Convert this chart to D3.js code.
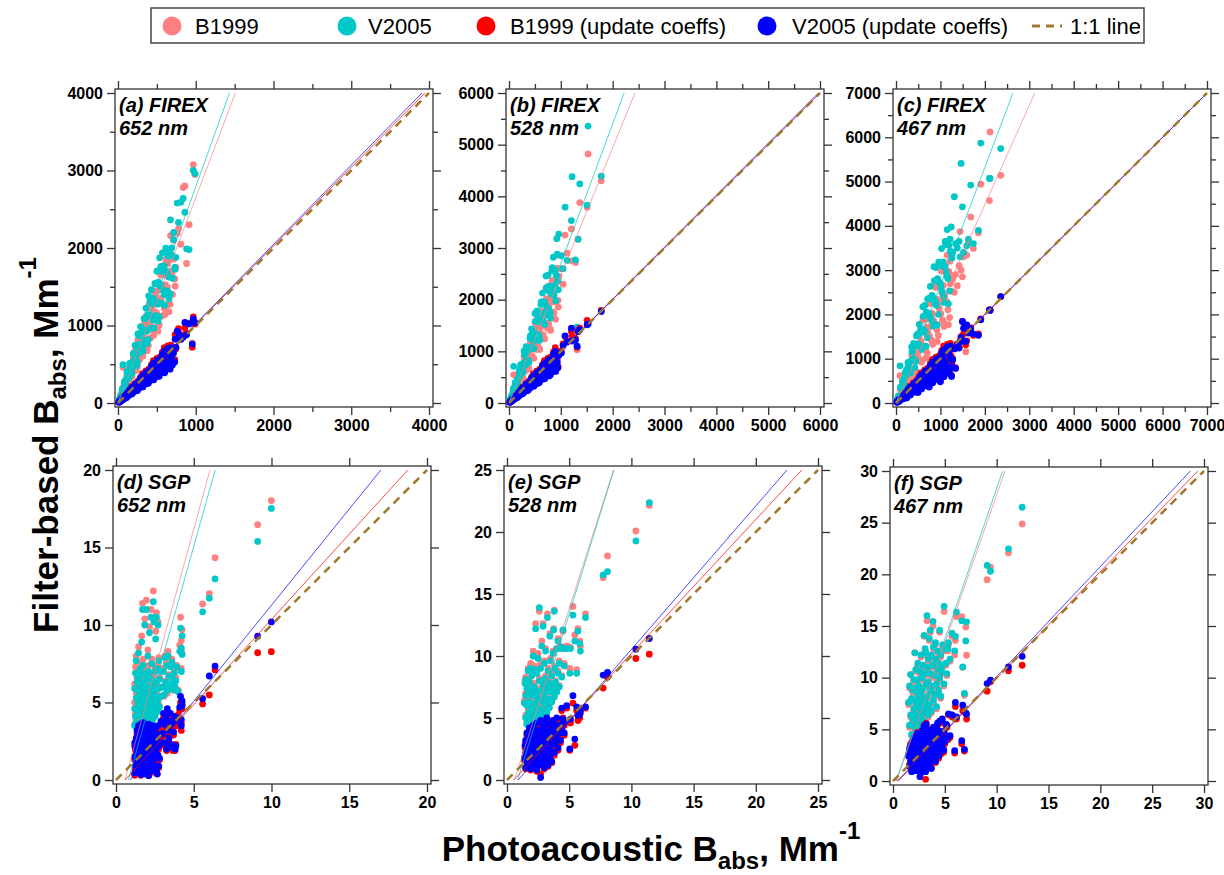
<!DOCTYPE html>
<html>
<head>
<meta charset="utf-8">
<script src="https://cdn.jsdelivr.net/npm/d3@7"></script>
<style>
  body { margin: 0; background: #fff; }
  text { font-family: "Liberation Sans", Arial, sans-serif; }
</style>
</head>
<body>
<script>
// rows: [photoacoustic, B1999, V2005, B1999 updated, V2005 updated]
var firex652 = [
  [10, 31, 34, 12, 11], [20, 44, 50, 16, 15], [30, 84, 90, 30, 29], [40, 76, 84, 28, 26],
  [50, 125, 140, 55, 52], [60, 180, 192, 54, 51], [64, 460, 495, 90, 78], [70, 140, 161, 52, 49],
  [80, 248, 272, 92, 88], [90, 198, 225, 72, 68], [100, 280, 300, 100, 95], [110, 209, 231, 77, 72],
  [120, 300, 336, 132, 126], [130, 390, 416, 117, 110], [140, 280, 322, 105, 98], [150, 465, 510, 172, 165],
  [160, 352, 400, 128, 120], [170, 476, 510, 170, 162], [180, 342, 378, 126, 117], [190, 475, 532, 209, 200],
  [200, 600, 640, 180, 170], [210, 420, 483, 157, 147], [220, 682, 748, 253, 242], [230, 506, 575, 184, 172],
  [240, 672, 720, 240, 228], [250, 475, 525, 175, 162], [260, 650, 728, 286, 273], [270, 810, 864, 243, 230],
  [280, 560, 644, 210, 196], [290, 900, 986, 334, 319], [300, 660, 750, 240, 225], [310, 868, 930, 310, 295],
  [320, 608, 672, 224, 208], [330, 825, 924, 363, 346], [340, 1020, 1088, 306, 289], [350, 700, 805, 262, 245],
  [360, 1116, 1224, 414, 396], [370, 814, 925, 296, 278], [380, 1064, 1140, 380, 361], [390, 741, 819, 273, 254],
  [400, 1000, 1120, 440, 420], [410, 1230, 1312, 369, 349], [420, 840, 966, 315, 294], [430, 1333, 1462, 494, 473],
  [440, 968, 1100, 352, 330], [450, 1260, 1350, 450, 428], [460, 874, 966, 322, 299], [470, 1175, 1316, 517, 494],
  [480, 1440, 1536, 432, 408], [490, 980, 1127, 367, 343], [500, 1550, 1700, 575, 550], [510, 1122, 1275, 408, 383],
  [520, 1456, 1560, 520, 494], [530, 1007, 1113, 371, 345], [540, 1350, 1512, 594, 567], [550, 1650, 1760, 495, 468],
  [560, 1120, 1288, 420, 392], [570, 1767, 1938, 655, 627], [580, 1276, 1450, 464, 435], [590, 1652, 1770, 590, 560],
  [600, 1140, 1260, 420, 390], [610, 1525, 1708, 671, 640], [620, 1860, 1984, 558, 527], [630, 1260, 1449, 472, 441],
  [640, 1800, 1900, 736, 704], [650, 1430, 1625, 520, 488], [660, 1848, 1980, 660, 627], [670, 1273, 1407, 469, 436],
  [680, 1700, 1904, 748, 714], [690, 1900, 2000, 621, 587], [700, 1400, 1610, 525, 490], [715, 2100, 2200, 720, 690],
  [730, 1600, 1750, 560, 530], [745, 1750, 1880, 700, 720], [762, 2190, 2580, 930, 925], [778, 2250, 2330, 960, 900],
  [808, 2050, 2590, 850, 820], [838, 2780, 2640, 880, 850], [860, 2800, 2460, 970, 1040], [882, 1800, 1990, 900, 880],
  [915, 2300, 1980, 1030, 1020], [955, 775, 1050, 720, 760], [968, 3075, 3000, 1110, 1085], [990, 2950, 2960, 1020, 1040],
  [15, 39, 44, 14, 14], [35, 72, 82, 42, 39], [55, 162, 179, 47, 44], [75, 176, 199, 79, 74],
  [95, 171, 195, 68, 65], [115, 368, 403, 115, 108], [135, 324, 371, 111, 105], [155, 403, 457, 147, 140],
  [175, 359, 411, 210, 196], [195, 575, 634, 166, 156], [215, 505, 570, 226, 211], [235, 423, 482, 169, 160],
  [255, 816, 893, 255, 240], [275, 660, 756, 226, 215], [295, 767, 870, 280, 266], [315, 646, 740, 378, 353],
  [335, 988, 1089, 285, 268], [355, 834, 941, 373, 348], [375, 675, 769, 270, 255], [395, 1264, 1383, 395, 371],
  [415, 996, 1141, 340, 324], [435, 1131, 1283, 413, 392], [455, 933, 1069, 546, 510], [475, 1401, 1544, 404, 380],
  [495, 1163, 1312, 520, 485], [515, 927, 1056, 371, 350], [535, 1712, 1873, 535, 503], [555, 1332, 1526, 455, 433],
  [575, 1495, 1696, 546, 518], [595, 1220, 1398, 714, 666], [615, 1814, 1999, 523, 492], [635, 1492, 1683, 667, 622],
  [655, 1179, 1343, 472, 445], [675, 2160, 2363, 675, 635], [695, 1668, 1911, 570, 542], [715, 1859, 2109, 679, 644],
  [735, 1507, 1727, 882, 823]
];
var firex528 = [
  [15, 45, 50, 17, 16], [30, 60, 72, 24, 22], [45, 117, 130, 45, 43], [60, 108, 132, 42, 41],
  [75, 180, 202, 82, 79], [90, 545, 710, 95, 85], [105, 220, 262, 79, 76], [120, 360, 396, 138, 132],
  [135, 270, 324, 108, 101], [150, 390, 435, 150, 142], [165, 297, 363, 115, 112], [180, 432, 486, 198, 189],
  [195, 546, 604, 175, 166], [210, 441, 525, 157, 151], [225, 675, 742, 259, 247], [240, 480, 576, 192, 180],
  [255, 663, 740, 255, 242], [270, 486, 594, 189, 184], [285, 684, 770, 313, 299], [300, 840, 930, 270, 255],
  [315, 661, 787, 236, 227], [330, 990, 1089, 380, 363], [345, 690, 828, 276, 259], [360, 936, 1044, 360, 342],
  [375, 675, 825, 262, 255], [390, 936, 1053, 429, 410], [405, 1134, 1255, 364, 344], [420, 882, 1050, 315, 302],
  [435, 1305, 1435, 500, 478], [450, 900, 1080, 360, 338], [465, 1209, 1348, 465, 442], [480, 864, 1056, 336, 326],
  [495, 1188, 1336, 545, 520], [510, 1428, 1581, 459, 434], [525, 1102, 1312, 394, 378], [540, 1620, 1782, 621, 594],
  [555, 1110, 1332, 444, 416], [570, 1482, 1653, 570, 541], [585, 1053, 1287, 410, 398], [600, 1440, 1620, 660, 630],
  [615, 1722, 1906, 553, 523], [630, 1323, 1575, 472, 454], [645, 1935, 2128, 742, 710], [660, 1320, 1584, 528, 495],
  [675, 1755, 1957, 675, 641], [690, 1242, 1518, 483, 469], [705, 1692, 1903, 775, 740], [720, 2016, 2232, 648, 612],
  [735, 1543, 1837, 551, 529], [750, 2250, 2475, 862, 825], [765, 1530, 1836, 612, 574], [780, 2028, 2262, 780, 741],
  [795, 1431, 1749, 556, 540], [810, 1944, 2187, 891, 850], [825, 2310, 2557, 742, 701], [840, 1764, 2100, 630, 605],
  [855, 2565, 2821, 983, 940], [870, 1740, 2088, 696, 652], [885, 2301, 2566, 885, 840], [900, 1620, 1980, 630, 612],
  [915, 2196, 2470, 1006, 960], [930, 2604, 2883, 837, 790], [945, 1984, 2362, 708, 680], [960, 2450, 3270, 950, 920],
  [1010, 2600, 2850, 1000, 970], [1043, 2300, 2600, 1146, 1108], [1082, 3250, 3790, 1288, 1301], [1120, 2900, 2760, 1200, 1180],
  [1204, 3370, 3530, 1385, 1449], [1217, 2750, 4380, 1300, 1200], [1282, 2720, 2770, 1250, 1220], [1314, 1030, 1470, 1080, 1100],
  [1333, 3170, 3170, 1400, 1380], [1365, 3880, 4240, 1450, 1420], [1507, 3790, 3830, 1597, 1513], [1526, 4820, 5360, 1560, 1530],
  [1780, 4300, 4390, 1790, 1771],
  [22, 59, 66, 21, 20], [52, 114, 133, 62, 58], [82, 254, 283, 70, 66], [112, 218, 258, 118, 110],
  [142, 355, 398, 102, 97], [172, 301, 353, 172, 162], [202, 576, 636, 166, 158], [232, 626, 696, 220, 209],
  [262, 576, 668, 314, 293], [292, 905, 1007, 248, 234], [322, 628, 741, 338, 316], [352, 880, 986, 253, 239],
  [382, 669, 783, 382, 359], [412, 1174, 1298, 338, 321], [442, 1193, 1326, 420, 398], [472, 1038, 1204, 566, 529],
  [502, 1556, 1732, 427, 402], [532, 1037, 1224, 559, 521], [562, 1405, 1574, 405, 382], [592, 1036, 1214, 592, 556],
  [622, 1773, 1959, 510, 485], [652, 1760, 1956, 619, 587], [682, 1500, 1739, 818, 764], [712, 2207, 2456, 605, 570],
  [742, 1447, 1707, 779, 727], [772, 1930, 2162, 556, 525], [802, 1404, 1644, 802, 754], [832, 2371, 2621, 682, 649],
  [862, 2327, 2586, 819, 776], [892, 1962, 2275, 1070, 999], [922, 2858, 3181, 784, 738], [952, 1856, 2190, 1000, 933]
];
var firex467 = [
  [18, 52, 61, 21, 20], [36, 65, 86, 27, 25], [54, 135, 162, 54, 51], [72, 115, 151, 43, 40],
  [90, 615, 840, 95, 85], [108, 292, 346, 92, 86], [126, 252, 328, 88, 82], [144, 418, 490, 166, 158],
  [162, 292, 389, 122, 113], [180, 450, 540, 180, 171], [198, 317, 416, 119, 109], [216, 475, 605, 238, 227],
  [234, 632, 749, 199, 187], [252, 504, 655, 176, 164], [270, 783, 918, 311, 297], [288, 518, 691, 216, 202],
  [306, 765, 918, 306, 291], [324, 518, 680, 194, 178], [342, 752, 958, 376, 359], [360, 972, 1152, 306, 288],
  [378, 756, 983, 265, 246], [396, 1148, 1346, 455, 436], [414, 745, 994, 311, 290], [432, 1080, 1296, 432, 410],
  [450, 720, 945, 270, 248], [468, 1030, 1310, 515, 491], [486, 1312, 1555, 413, 389], [504, 1008, 1310, 353, 328],
  [522, 1514, 1775, 600, 574], [540, 972, 1296, 405, 378], [558, 1395, 1674, 558, 530], [576, 922, 1210, 346, 317],
  [594, 1307, 1663, 653, 624], [612, 1652, 1958, 520, 490], [630, 1260, 1638, 441, 410], [648, 1879, 2203, 745, 713],
  [666, 1199, 1598, 500, 466], [684, 1710, 2052, 684, 650], [702, 1123, 1474, 421, 386], [720, 1584, 2016, 792, 756],
  [738, 1993, 2362, 627, 590], [756, 1512, 1966, 529, 491], [774, 2245, 2632, 890, 851], [792, 1426, 1901, 594, 554],
  [810, 2025, 2430, 810, 770], [828, 1325, 1739, 497, 455], [846, 1861, 2369, 931, 888], [864, 2333, 2765, 734, 691],
  [882, 1764, 2293, 617, 573], [900, 2610, 3060, 1035, 990], [918, 1652, 2203, 689, 643], [936, 2340, 2808, 936, 889],
  [954, 1526, 2003, 572, 525], [972, 2138, 2722, 1069, 1021], [990, 2673, 3168, 842, 792], [1008, 2016, 2621, 706, 655],
  [1026, 2975, 3488, 1180, 1129], [1044, 1879, 2506, 783, 731], [1062, 2655, 3186, 1062, 1009], [1080, 1728, 2268, 648, 594],
  [1098, 2416, 3074, 1208, 1153], [1116, 3013, 3571, 949, 893], [1134, 2268, 2948, 794, 737], [1152, 3341, 3917, 1325, 1267],
  [1170, 2106, 2808, 878, 819], [1188, 2970, 3564, 1188, 1129], [1206, 1930, 2533, 724, 663], [1224, 2693, 3427, 1346, 1285],
  [1242, 3353, 3974, 1056, 994], [1260, 2520, 3276, 882, 819], [1277, 2800, 3400, 1000, 976], [1314, 2500, 4660, 1250, 1220],
  [1340, 2900, 3600, 800, 780], [1380, 2650, 3500, 1330, 1330], [1420, 3100, 3650, 1260, 1240], [1442, 3870, 3300, 1400, 1380],
  [1465, 3000, 5410, 1500, 1480], [1495, 2850, 4430, 1840, 1840], [1520, 3300, 3400, 1560, 1690], [1570, 1160, 1730, 1314, 1389],
  [1592, 3340, 3550, 1400, 1765], [1630, 3620, 3700, 1600, 1580], [1682, 4200, 4920, 1700, 1680], [1742, 3490, 3600, 1530, 1562],
  [1855, 3845, 3900, 1560, 1530], [1908, 4940, 5870, 1900, 1880], [2103, 4570, 5070, 2103, 2103], [2118, 6120, 5070, 2100, 2090],
  [2358, 5140, 5745, 2403, 2403],
  [27, 65, 81, 26, 24], [63, 107, 142, 76, 71], [99, 307, 356, 79, 74], [135, 270, 338, 142, 135],
  [171, 257, 325, 111, 103], [207, 580, 683, 186, 176], [243, 559, 656, 122, 117], [279, 670, 837, 265, 251],
  [315, 536, 709, 378, 353], [351, 1088, 1264, 281, 263], [387, 774, 968, 406, 387], [423, 635, 804, 275, 254],
  [459, 1285, 1515, 413, 390], [495, 1139, 1337, 248, 238], [531, 1274, 1593, 504, 478], [567, 964, 1276, 680, 635],
  [603, 1869, 2171, 482, 452], [639, 1278, 1598, 671, 639], [675, 1013, 1283, 439, 405], [711, 1991, 2346, 640, 604],
  [747, 1718, 2017, 374, 359], [783, 1879, 2349, 744, 705], [819, 1392, 1843, 983, 917], [855, 2651, 3078, 684, 641],
  [891, 1782, 2228, 936, 891], [927, 1391, 1761, 603, 556], [963, 2696, 3178, 867, 819], [999, 2298, 2697, 500, 480],
  [1035, 2484, 3105, 983, 932], [1071, 1821, 2410, 1285, 1200], [1107, 3100, 3650, 886, 830], [1143, 2286, 2858, 1200, 1143],
  [1179, 1769, 2240, 766, 707], [1215, 3200, 3700, 1094, 1033], [1251, 2877, 3378, 626, 600]
];
var sgp652 = [
  [1.2, 3.6, 3.5, 0.3, 0.45], [1.2, 5.0, 4.6, 1.3, 1.5], [1.2, 6.2, 5.9, 2.2, 2.4], [1.25, 4.3, 4.1, 0.7, 0.9],
  [1.25, 7.3, 6.9, 1.9, 2.1], [1.3, 3.9, 3.7, 1.1, 1.2], [1.3, 5.6, 5.3, 2.5, 2.7], [1.3, 8.0, 7.7, 0.5, 0.6],
  [1.35, 4.8, 4.5, 1.6, 1.8], [1.35, 6.6, 6.3, 3.0, 3.2], [1.4, 3.5, 3.4, 0.9, 1.0], [1.4, 5.3, 5.0, 2.0, 2.2],
  [1.4, 7.0, 6.6, 2.8, 3.0], [1.45, 4.4, 4.2, 0.4, 0.5], [1.45, 6.0, 5.7, 1.4, 1.6], [1.45, 8.6, 8.2, 3.3, 3.5],
  [1.5, 3.8, 3.6, 1.8, 2.0], [1.5, 5.0, 4.8, 2.6, 2.8], [1.5, 6.8, 6.5, 1.0, 1.1], [1.55, 4.6, 4.4, 2.3, 2.4],
  [1.55, 5.8, 5.5, 0.6, 0.8], [1.55, 7.6, 7.2, 3.0, 3.1], [1.6, 3.4, 3.4, 1.3, 1.5], [1.6, 5.4, 5.1, 3.4, 3.6],
  [1.6, 6.4, 6.1, 0.3, 0.35], [1.65, 4.2, 4.0, 2.0, 2.1], [1.65, 7.1, 6.8, 1.1, 1.2], [1.65, 9.3, 8.9, 2.7, 2.8],
  [1.7, 3.7, 3.6, 0.8, 0.9], [1.7, 4.9, 4.7, 1.7, 1.9], [1.7, 6.1, 5.8, 2.4, 2.6], [1.7, 11.4, 11.0, 3.2, 3.4],
  [1.75, 4.4, 4.3, 3.6, 3.7], [1.75, 5.7, 5.4, 1.4, 1.5], [1.75, 7.8, 7.4, 0.5, 0.6], [1.8, 3.5, 3.5, 2.2, 2.3],
  [1.8, 5.2, 5.0, 0.9, 1.0], [1.8, 6.6, 6.3, 2.9, 3.1], [1.85, 4.1, 4.0, 1.8, 1.9], [1.85, 6.0, 5.7, 0.4, 0.4],
  [1.85, 10.4, 10.0, 2.5, 2.7], [1.9, 4.7, 4.5, 1.2, 1.3], [1.9, 5.5, 5.3, 3.3, 3.5], [1.9, 7.2, 6.9, 2.1, 2.2],
  [1.95, 3.8, 3.7, 0.7, 0.8], [1.95, 6.3, 6.0, 1.5, 1.7], [1.95, 11.6, 11.0, 2.8, 3.0], [2.0, 4.4, 4.2, 2.4, 2.5],
  [2.0, 5.1, 4.9, 1.0, 1.1], [2.0, 6.8, 6.5, 3.1, 3.3], [2.05, 3.6, 3.5, 1.9, 2.0], [2.05, 5.8, 5.5, 0.6, 0.6],
  [2.05, 8.4, 8.0, 2.6, 2.8], [2.1, 4.2, 4.1, 0.3, 0.28], [2.1, 5.4, 5.2, 1.4, 1.5], [2.1, 7.4, 7.0, 3.5, 3.6],
  [2.15, 4.8, 4.6, 2.2, 2.3], [2.15, 6.2, 5.9, 1.1, 1.2], [2.15, 9.9, 9.5, 2.9, 3.0], [2.2, 3.7, 3.6, 1.6, 1.8],
  [2.2, 5.7, 5.5, 2.7, 2.8], [2.2, 6.9, 6.6, 0.8, 0.9], [2.25, 4.5, 4.4, 3.2, 3.3], [2.25, 11.0, 10.5, 2.0, 2.1],
  [2.3, 5.0, 4.8, 1.2, 1.3], [2.3, 6.4, 6.1, 2.4, 2.6], [2.3, 7.8, 7.5, 0.5, 0.6], [2.35, 4.0, 3.9, 1.8, 1.9],
  [2.35, 5.9, 5.6, 3.0, 3.2], [2.4, 4.6, 4.5, 0.9, 1.0], [2.4, 6.7, 6.4, 2.2, 2.3], [2.4, 12.2, 11.5, 3.4, 3.5],
  [2.45, 5.3, 5.1, 1.5, 1.6], [2.45, 10.3, 10.2, 2.7, 2.8], [2.5, 4.2, 4.1, 2.0, 2.1], [2.5, 6.0, 5.8, 0.7, 0.8],
  [2.5, 7.3, 7.0, 3.1, 3.3], [2.55, 4.9, 4.8, 1.2, 1.4], [2.55, 9.6, 9.1, 2.5, 2.6], [2.6, 5.6, 5.4, 1.8, 2.0],
  [2.6, 10.8, 10.5, 2.9, 3.0], [2.6, 6.4, 6.3, 0.5, 0.6], [2.65, 4.5, 4.4, 2.3, 2.5], [2.65, 7.4, 7.2, 0.4, 0.39],
  [2.7, 5.2, 5.1, 1.5, 1.6], [2.7, 10.2, 10.0, 3.3, 3.5], [2.75, 6.0, 5.9, 2.0, 2.2], [2.75, 7.9, 7.7, 0.8, 0.9],
  [2.8, 4.8, 4.7, 2.7, 2.9], [2.8, 6.6, 6.5, 1.3, 1.4], [2.9, 5.4, 5.4, 3.6, 3.8], [2.9, 7.2, 7.0, 2.3, 2.4],
  [3.0, 6.0, 6.0, 2.8, 3.0], [3.05, 7.2, 7.0, 4.0, 4.3], [3.1, 5.4, 5.5, 3.3, 3.6], [3.15, 8.0, 7.9, 2.2, 2.4],
  [3.2, 6.4, 6.3, 3.8, 4.0], [3.25, 7.6, 7.4, 1.9, 2.0], [3.3, 5.6, 5.8, 4.4, 4.6], [3.35, 8.3, 8.0, 3.0, 3.2],
  [3.4, 6.8, 6.7, 2.5, 2.7], [3.45, 5.9, 6.0, 3.6, 3.8], [3.5, 7.4, 7.3, 4.1, 4.3], [3.55, 6.2, 6.2, 2.2, 2.3],
  [3.6, 7.8, 7.6, 3.4, 3.6], [3.65, 6.6, 6.5, 1.9, 2.1], [3.7, 5.8, 5.8, 2.9, 3.1], [3.75, 7.0, 6.9, 3.8, 4.1],
  [3.8, 6.0, 6.0, 1.9, 2.0], [3.85, 6.6, 6.4, 2.3, 2.2], [3.9, 7.4, 7.3, 3.5, 3.8], [4.0, 5.8, 5.7, 4.2, 4.0],
  [4.1, 8.7, 8.3, 4.5, 4.7], [4.15, 10.5, 9.8, 5.0, 5.4], [4.2, 9.0, 8.5, 3.7, 3.9], [4.2, 7.2, 7.0, 3.2, 3.5],
  [4.25, 8.2, 8.1, 4.9, 5.1], [4.25, 9.7, 9.3, 4.6, 4.8], [5.57, 11.36, 10.85, 4.91, 5.25], [6.0, 12.03, 11.73, 5.49, 6.71],
  [6.37, 14.34, 12.97, 7.1, 7.35], [9.11, 16.47, 15.39, 8.21, 9.28], [9.99, 18.03, 17.52, 8.28, 10.2]
];
var sgp528 = [
  [1.4, 6.4, 6.2, 1.6, 1.8], [1.45, 8.0, 7.8, 2.6, 2.8], [1.5, 5.2, 5.0, 0.9, 1.0], [1.5, 7.0, 6.8, 3.0, 3.2],
  [1.5, 8.3, 8.1, 2.0, 2.2], [1.6, 4.6, 4.5, 1.4, 1.5], [1.6, 6.2, 6.0, 2.4, 2.6], [1.6, 7.6, 7.4, 3.6, 3.8],
  [1.7, 5.6, 5.4, 1.0, 1.1], [1.7, 7.1, 6.9, 2.0, 2.2], [1.7, 9.0, 8.8, 3.2, 3.4], [1.8, 4.9, 4.8, 2.9, 3.0],
  [1.8, 6.5, 6.3, 1.5, 1.6], [1.8, 8.1, 7.9, 4.0, 4.2], [1.9, 5.4, 5.3, 2.3, 2.5], [1.9, 7.5, 7.3, 0.8, 0.9],
  [1.9, 9.4, 9.0, 3.5, 3.7], [2.0, 4.6, 4.5, 1.8, 1.9], [2.0, 6.0, 5.8, 3.0, 3.2], [2.0, 8.6, 8.4, 1.2, 1.3],
  [2.1, 5.1, 5.0, 2.6, 2.8], [2.1, 7.0, 6.8, 4.2, 4.4], [2.1, 10.4, 10.0, 1.6, 1.7], [2.2, 5.8, 5.6, 0.9, 1.0],
  [2.2, 7.8, 7.5, 2.1, 2.3], [2.2, 9.2, 8.9, 3.4, 3.6], [2.3, 4.8, 4.7, 3.9, 4.0], [2.3, 6.4, 6.2, 1.4, 1.5],
  [2.3, 12.6, 12.2, 2.8, 2.9], [2.4, 5.5, 5.3, 2.4, 2.5], [2.4, 7.3, 7.1, 0.7, 0.8], [2.4, 8.8, 8.6, 4.4, 4.6],
  [2.5, 5.0, 4.9, 1.9, 2.0], [2.5, 6.8, 6.6, 3.2, 3.4], [2.5, 10.2, 9.8, 1.1, 1.2], [2.6, 6.0, 5.8, 2.7, 2.9],
  [2.6, 8.2, 8.0, 3.8, 4.0], [2.6, 13.6, 13.9, 1.6, 1.7], [2.7, 5.3, 5.2, 0.5, 0.2], [2.7, 7.4, 7.2, 2.2, 2.4],
  [2.7, 9.3, 9.0, 4.6, 4.8], [2.8, 4.7, 4.7, 1.3, 1.4], [2.8, 6.6, 6.4, 3.5, 3.7], [2.8, 11.2, 10.8, 2.6, 2.7],
  [2.9, 5.8, 5.6, 1.8, 1.9], [2.9, 7.9, 7.7, 4.1, 4.3], [2.9, 12.6, 12.4, 3.0, 3.1], [3.0, 5.1, 5.0, 0.9, 1.0],
  [3.0, 7.0, 6.9, 2.4, 2.5], [3.0, 9.6, 9.4, 4.4, 4.6], [3.1, 6.2, 6.1, 3.2, 3.4], [3.1, 8.4, 8.2, 1.5, 1.6],
  [3.1, 10.6, 10.4, 3.8, 4.0], [3.2, 5.5, 5.4, 2.0, 2.1], [3.2, 7.6, 7.4, 4.9, 5.0], [3.25, 13.4, 13.1, 2.8, 3.0],
  [3.3, 6.6, 6.5, 1.1, 1.2], [3.3, 9.0, 8.8, 3.6, 3.8], [3.4, 5.9, 5.8, 2.5, 2.6], [3.4, 8.0, 7.8, 4.3, 4.5],
  [3.45, 11.8, 11.6, 1.8, 1.9], [3.5, 7.2, 7.1, 3.0, 3.2], [3.5, 9.8, 9.6, 2.2, 2.3], [3.6, 6.4, 6.3, 3.9, 4.1],
  [3.6, 8.6, 8.4, 1.4, 1.5], [3.7, 7.6, 7.5, 2.7, 2.9], [3.7, 10.4, 10.2, 4.6, 4.8], [3.75, 12.2, 12.1, 3.3, 3.5],
  [3.8, 13.7, 13.6, 3.8, 3.9], [3.8, 6.8, 6.7, 2.0, 2.2], [3.85, 9.2, 9.0, 4.2, 4.4], [3.9, 8.0, 7.9, 2.9, 3.1],
  [4.0, 10.6, 10.6, 4.8, 5.0], [4.0, 7.2, 7.1, 3.4, 3.6], [4.1, 8.8, 8.6, 2.4, 2.6], [4.1, 11.4, 11.2, 4.0, 4.2],
  [4.2, 9.6, 9.4, 3.6, 3.8], [4.2, 7.6, 7.5, 4.6, 4.4], [4.3, 10.8, 10.6, 3.0, 3.2], [4.4, 10.7, 10.7, 5.6, 5.8],
  [4.4, 8.4, 8.3, 4.0, 4.2], [4.5, 12.0, 12.1, 5.0, 4.9], [4.6, 9.4, 9.2, 4.4, 4.6], [4.6, 10.7, 10.6, 3.6, 3.8],
  [4.8, 10.8, 10.6, 5.8, 6.0], [5.05, 9.0, 8.6, 2.4, 2.5], [5.1, 10.7, 10.6, 4.6, 4.9], [5.3, 14.0, 13.3, 6.2, 6.8],
  [5.45, 11.7, 11.2, 2.8, 3.3], [5.6, 8.9, 8.6, 5.6, 5.9], [5.7, 12.2, 12.0, 4.8, 5.2], [5.85, 11.2, 11.0, 5.0, 5.3],
  [5.9, 10.8, 10.4, 5.4, 5.6], [6.31, 13.4, 13.1, 5.8, 5.9], [7.73, 16.32, 16.54, 7.41, 8.46], [8.08, 18.07, 16.81, 8.3, 8.67],
  [10.36, 20.08, 19.28, 9.8, 10.55], [11.44, 22.15, 22.37, 10.15, 11.41]
];
var sgp467 = [
  [1.5, 7.4, 7.6, 2.6, 2.4], [1.6, 5.2, 5.4, 1.6, 1.4], [1.6, 9.0, 9.2, 3.2, 3.0], [1.7, 6.2, 6.4, 2.0, 1.8],
  [1.7, 10.3, 10.3, 3.6, 3.4], [1.8, 4.4, 4.5, 1.0, 0.9], [1.8, 7.8, 8.0, 2.8, 2.7], [1.9, 5.8, 6.0, 1.8, 1.6],
  [1.9, 8.6, 8.8, 3.9, 3.8], [1.95, 4.0, 4.0, 2.3, 2.2], [2.0, 6.8, 7.0, 1.3, 1.2], [2.0, 9.6, 9.8, 3.0, 2.9],
  [2.1, 5.0, 5.2, 2.6, 2.5], [2.1, 7.6, 7.8, 4.3, 4.2], [2.1, 12.4, 12.4, 1.9, 1.8], [2.2, 6.2, 6.4, 3.4, 3.3],
  [2.2, 8.8, 9.0, 1.1, 1.0], [2.2, 10.6, 10.8, 2.4, 2.3], [2.3, 5.4, 5.6, 3.9, 3.8], [2.3, 7.2, 7.4, 1.6, 1.5],
  [2.3, 9.6, 9.8, 4.7, 4.6], [2.4, 4.6, 4.8, 2.9, 2.8], [2.4, 8.2, 8.4, 2.0, 1.9], [2.4, 11.2, 11.4, 3.5, 3.4],
  [2.5, 6.0, 6.2, 1.2, 1.0], [2.5, 7.6, 7.8, 4.1, 4.0], [2.5, 9.0, 9.2, 2.7, 2.6], [2.6, 5.2, 5.4, 1.5, 0.42],
  [2.6, 10.4, 10.6, 3.2, 3.1], [2.6, 6.8, 7.0, 4.5, 4.5], [2.7, 8.4, 8.6, 2.2, 2.1], [2.7, 12.0, 12.2, 3.7, 3.6],
  [2.7, 5.8, 6.0, 0.9, 0.8], [2.8, 7.4, 7.6, 2.9, 2.8], [2.8, 9.8, 10.0, 4.9, 4.8], [2.8, 4.8, 5.0, 1.8, 1.6],
  [2.9, 6.4, 6.6, 3.4, 3.3], [2.9, 11.0, 11.2, 1.3, 1.2], [2.9, 8.8, 9.0, 4.2, 4.1], [3.0, 14.0, 14.1, 2.5, 2.4],
  [3.0, 5.6, 5.8, 3.8, 3.7], [3.0, 7.8, 8.0, 5.4, 5.3], [3.1, 10.2, 10.4, 2.0, 1.9], [3.1, 6.8, 7.0, 4.4, 4.3],
  [3.1, 12.6, 12.8, 1.1, 1.0], [3.15, 7.4, 7.6, 0.16, 0.9], [3.2, 9.2, 9.4, 3.0, 2.9], [3.2, 5.2, 5.4, 4.8, 4.7],
  [3.2, 12.2, 12.4, 5.6, 5.5], [3.28, 15.5, 16.0, 3.5, 3.4], [3.3, 8.0, 8.2, 2.3, 2.2], [3.3, 10.8, 11.0, 4.0, 3.9],
  [3.4, 6.2, 6.4, 1.6, 1.5], [3.4, 9.4, 9.6, 3.2, 3.1], [3.4, 11.6, 11.8, 5.0, 4.9], [3.5, 13.6, 13.8, 2.6, 2.5],
  [3.5, 7.2, 7.4, 4.4, 4.3], [3.6, 8.6, 8.8, 1.9, 1.8], [3.6, 10.2, 10.4, 3.6, 3.7], [3.6, 14.4, 14.6, 4.6, 4.5],
  [3.7, 6.6, 6.8, 2.9, 2.8], [3.7, 12.0, 12.2, 1.3, 1.2], [3.8, 9.0, 9.2, 4.0, 4.2], [3.8, 11.0, 11.2, 2.2, 2.1],
  [3.86, 15.0, 15.45, 3.0, 3.1], [3.9, 7.6, 7.8, 5.0, 5.2], [3.9, 12.8, 13.0, 2.6, 2.5], [4.0, 10.0, 10.2, 3.4, 3.6],
  [4.0, 8.2, 8.4, 4.4, 4.6], [4.1, 11.6, 11.8, 1.8, 1.9], [4.1, 13.2, 13.4, 3.8, 4.0], [4.2, 9.2, 9.4, 2.8, 2.9],
  [4.2, 7.0, 7.2, 4.9, 5.1], [4.3, 10.6, 10.8, 5.4, 5.6], [4.3, 12.4, 12.6, 3.2, 3.4], [4.4, 8.6, 8.8, 2.2, 2.4],
  [4.4, 11.2, 11.4, 4.2, 4.4], [4.5, 14.4, 14.6, 3.6, 3.8], [4.5, 9.8, 10.0, 5.6, 5.8], [4.6, 12.0, 12.2, 2.6, 2.8],
  [4.6, 8.0, 8.2, 4.6, 4.8], [4.7, 10.4, 10.6, 3.2, 3.4], [4.75, 11.0, 11.2, 5.8, 6.0], [4.8, 13.0, 13.2, 4.0, 4.2],
  [4.9, 9.2, 9.4, 2.8, 3.0], [4.93, 16.4, 16.9, 4.6, 4.8], [5.0, 12.6, 12.8, 3.6, 3.8], [5.1, 11.2, 11.4, 5.4, 5.5],
  [5.2, 10.2, 10.4, 5.2, 5.4], [5.3, 12.6, 12.8, 4.0, 4.2], [5.35, 13.2, 13.4, 6.4, 6.5], [5.5, 11.6, 11.8, 4.2, 4.4],
  [5.7, 14.0, 14.3, 6.2, 6.4], [5.95, 12.2, 12.6, 2.7, 2.93], [6.02, 13.6, 14.0, 7.2, 7.6], [6.12, 15.9, 16.35, 6.0, 6.2],
  [6.63, 15.9, 15.5, 3.6, 3.9], [6.73, 11.0, 11.04, 6.8, 7.34], [6.89, 8.3, 8.47, 2.9, 3.06], [7.02, 14.9, 13.55, 6.53, 6.6],
  [7.1, 12.17, 15.4, 6.0, 6.47], [9.08, 19.48, 20.86, 8.69, 9.43], [9.4, 20.7, 20.31, 9.6, 9.75], [11.14, 22.08, 22.47, 10.66, 11.04],
  [12.46, 24.88, 26.49, 11.2, 12.07]
];

var panelData = [firex652, firex528, firex467, sgp652, sgp528, sgp467];
var panelTitles = ["(a) FIREX", "(b) FIREX", "(c) FIREX", "(d) SGP", "(e) SGP", "(f) SGP"];
var panelWavelengths = ["652 nm", "528 nm", "467 nm", "652 nm", "528 nm", "467 nm"];
var axisMax = [4000, 6000, 7000, 20, 25, 30];
var majorStep = [1000, 1000, 1000, 5, 5, 5];
var minorStep = [500, 500, 500, 0, 0, 0];

// linear fits [slope, intercept]
var fitB1999 = [[2.65, 0], [2.47, 0], [2.24, 0], [3.66, -2.12], [3.14, -1.88], [2.87, -1.0]];
var fitV2005 = [[2.79, 0], [2.70, 0], [2.66, 0], [3.58, -2.83], [3.23, -2.75], [2.92, -0.88]];
var fitB1999u = [[1.013, 0], [1.0, 0], [1.0, 0], [1.10, -0.64], [1.08, -0.59], [1.034, -0.41]];
var fitV2005u = [[1.023, 0], [1.005, 0], [1.0, 0], [1.24, -1.12], [1.157, -1.04], [1.064, -0.53]];

var seriesNames = ["B1999", "V2005", "B1999 (update coeffs)", "V2005 (update coeffs)"];
var seriesColors = ["#ff8080", "#00c8c8", "#ff0000", "#0000ff"];
var oneToOneColor = "#a0782d";

var w = 1224, h = 875;
var plotW = 311, plotH = 310;
var plotLeft = [118, 509, 896, 116, 507, 893];
var plotTop = [93, 93, 93, 470, 470, 471];

var svg = d3.select("body").append("svg")
  .attr("width", w)
  .attr("height", h);

panelData.forEach(function (rows, i) {
  var max = axisMax[i];
  var x = d3.scaleLinear().domain([0, max]).range([plotLeft[i], plotLeft[i] + plotW]);
  var y = d3.scaleLinear().domain([0, max]).range([plotTop[i] + plotH, plotTop[i]]);
  var fl = plotLeft[i] - 3, fr = plotLeft[i] + plotW + 4,
    ft = plotTop[i] - 4, fb = plotTop[i] + plotH + 4;

  var g = svg.append("g");

  var majors = d3.range(0, max + 1e-9, majorStep[i]);
  var minors = minorStep[i] ? d3.range(0, max + 1e-9, minorStep[i]).filter(function (v) {
    return Math.abs(v / majorStep[i] - Math.round(v / majorStep[i])) > 1e-6;
  }) : [];

  function styleAxis(sel) {
    sel.select(".domain").remove();
    sel.selectAll("line").attr("stroke", "#333").attr("stroke-width", 1.3);
    sel.selectAll("text")
      .attr("font-family", "Liberation Sans, Arial, sans-serif")
      .attr("font-size", 16)
      .attr("font-weight", "bold")
      .attr("fill", "#000");
  }

  // major ticks on all four sides, labels left and bottom
  [[d3.axisLeft(y), "translate(" + fl + ",0)", true, 4],
   [d3.axisRight(y), "translate(" + fr + ",0)", false, 3],
   [d3.axisBottom(x), "translate(0," + fb + ")", true, 5],
   [d3.axisTop(x), "translate(0," + ft + ")", false, 3]].forEach(function (a) {
    var ax = a[0].tickValues(majors).tickSize(8).tickSizeOuter(0).tickPadding(a[3])
      .tickFormat(a[2] ? d3.format("d") : "");
    g.append("g").attr("transform", a[1]).call(ax).call(styleAxis);
  });
  if (minors.length) {
    [[d3.axisLeft(y), "translate(" + fl + ",0)"],
     [d3.axisRight(y), "translate(" + fr + ",0)"],
     [d3.axisBottom(x), "translate(0," + fb + ")"],
     [d3.axisTop(x), "translate(0," + ft + ")"]].forEach(function (a) {
      g.append("g").attr("transform", a[1])
        .call(a[0].tickValues(minors).tickSize(5).tickSizeOuter(0).tickFormat(""))
        .call(styleAxis);
    });
  }

  g.append("rect")
    .attr("x", fl).attr("y", ft)
    .attr("width", fr - fl).attr("height", fb - ft)
    .attr("fill", "none").attr("stroke", "#333").attr("stroke-width", 1.3);

  // points
  [1, 2, 3, 4].forEach(function (k) {
    g.selectAll(".dot" + k)
      .data(rows)
      .enter()
      .append("circle")
      .attr("class", "dot" + k)
      .attr("cx", function (d) { return x(d[0]); })
      .attr("cy", function (d) { return y(d[k]); })
      .attr("r", 3.4)
      .attr("fill", seriesColors[k - 1]);
  });

  // fit lines
  [fitB1999, fitV2005, fitB1999u, fitV2005u].forEach(function (fit, k) {
    var m = fit[i][0], b = fit[i][1];
    var x0 = Math.max(0, -b / m), x1 = Math.min(max, (max - b) / m);
    g.append("line")
      .attr("x1", x(x0)).attr("y1", y(m * x0 + b))
      .attr("x2", x(x1)).attr("y2", y(m * x1 + b))
      .attr("stroke", seriesColors[k])
      .attr("stroke-width", 1)
      .attr("opacity", 0.7);
  });

  g.append("line")
    .attr("x1", x(0)).attr("y1", y(0))
    .attr("x2", x(max)).attr("y2", y(max))
    .attr("stroke", oneToOneColor)
    .attr("stroke-width", 2.5)
    .attr("stroke-dasharray", "8,6");

  g.append("text")
    .attr("x", fl + 4)
    .attr("y", plotTop[i] + 19)
    .attr("font-size", 20)
    .attr("font-weight", "bold")
    .attr("font-style", "italic")
    .text(panelTitles[i]);
  g.append("text")
    .attr("x", fl + 4)
    .attr("y", plotTop[i] + 42)
    .attr("font-size", 20)
    .attr("font-weight", "bold")
    .attr("font-style", "italic")
    .text(panelWavelengths[i]);
});

// legend
var legend = svg.append("g");
legend.append("rect")
  .attr("x", 151).attr("y", 8)
  .attr("width", 993).attr("height", 35)
  .attr("fill", "#fff").attr("stroke", "#444").attr("stroke-width", 1.5);
var legendDotX = [172, 347, 486, 767];
var legendTextX = [195, 368, 510, 792];
seriesNames.forEach(function (name, k) {
  legend.append("circle")
    .attr("cx", legendDotX[k]).attr("cy", 26).attr("r", 9.5)
    .attr("fill", seriesColors[k]);
  legend.append("text")
    .attr("x", legendTextX[k]).attr("y", 34)
    .attr("font-size", 22)
    .text(name);
});
legend.append("line")
  .attr("x1", 1032).attr("y1", 26).attr("x2", 1062).attr("y2", 26)
  .attr("stroke", oneToOneColor).attr("stroke-width", 3)
  .attr("stroke-dasharray", "8,6");
legend.append("text")
  .attr("x", 1070).attr("y", 34)
  .attr("font-size", 22)
  .text("1:1 line");

// axis titles
var xTitle = svg.append("text")
  .attr("x", 651).attr("y", 861)
  .attr("text-anchor", "middle")
  .attr("font-size", 35)
  .attr("font-weight", "bold");
xTitle.append("tspan").text("Photoacoustic B");
xTitle.append("tspan").attr("font-size", 24).attr("dy", 8).text("abs");
xTitle.append("tspan").attr("dy", -8).text(", Mm");
xTitle.append("tspan").attr("font-size", 24).attr("dy", -22).text("-1");

var yTitle = svg.append("text")
  .attr("transform", "translate(58,445) rotate(-90)")
  .attr("text-anchor", "middle")
  .attr("font-size", 35)
  .attr("font-weight", "bold");
yTitle.append("tspan").text("Filter-based B");
yTitle.append("tspan").attr("font-size", 24).attr("dy", 8).text("abs");
yTitle.append("tspan").attr("dy", -8).text(", Mm");
yTitle.append("tspan").attr("font-size", 24).attr("dy", -22).text("-1");
</script>
</body>
</html>
